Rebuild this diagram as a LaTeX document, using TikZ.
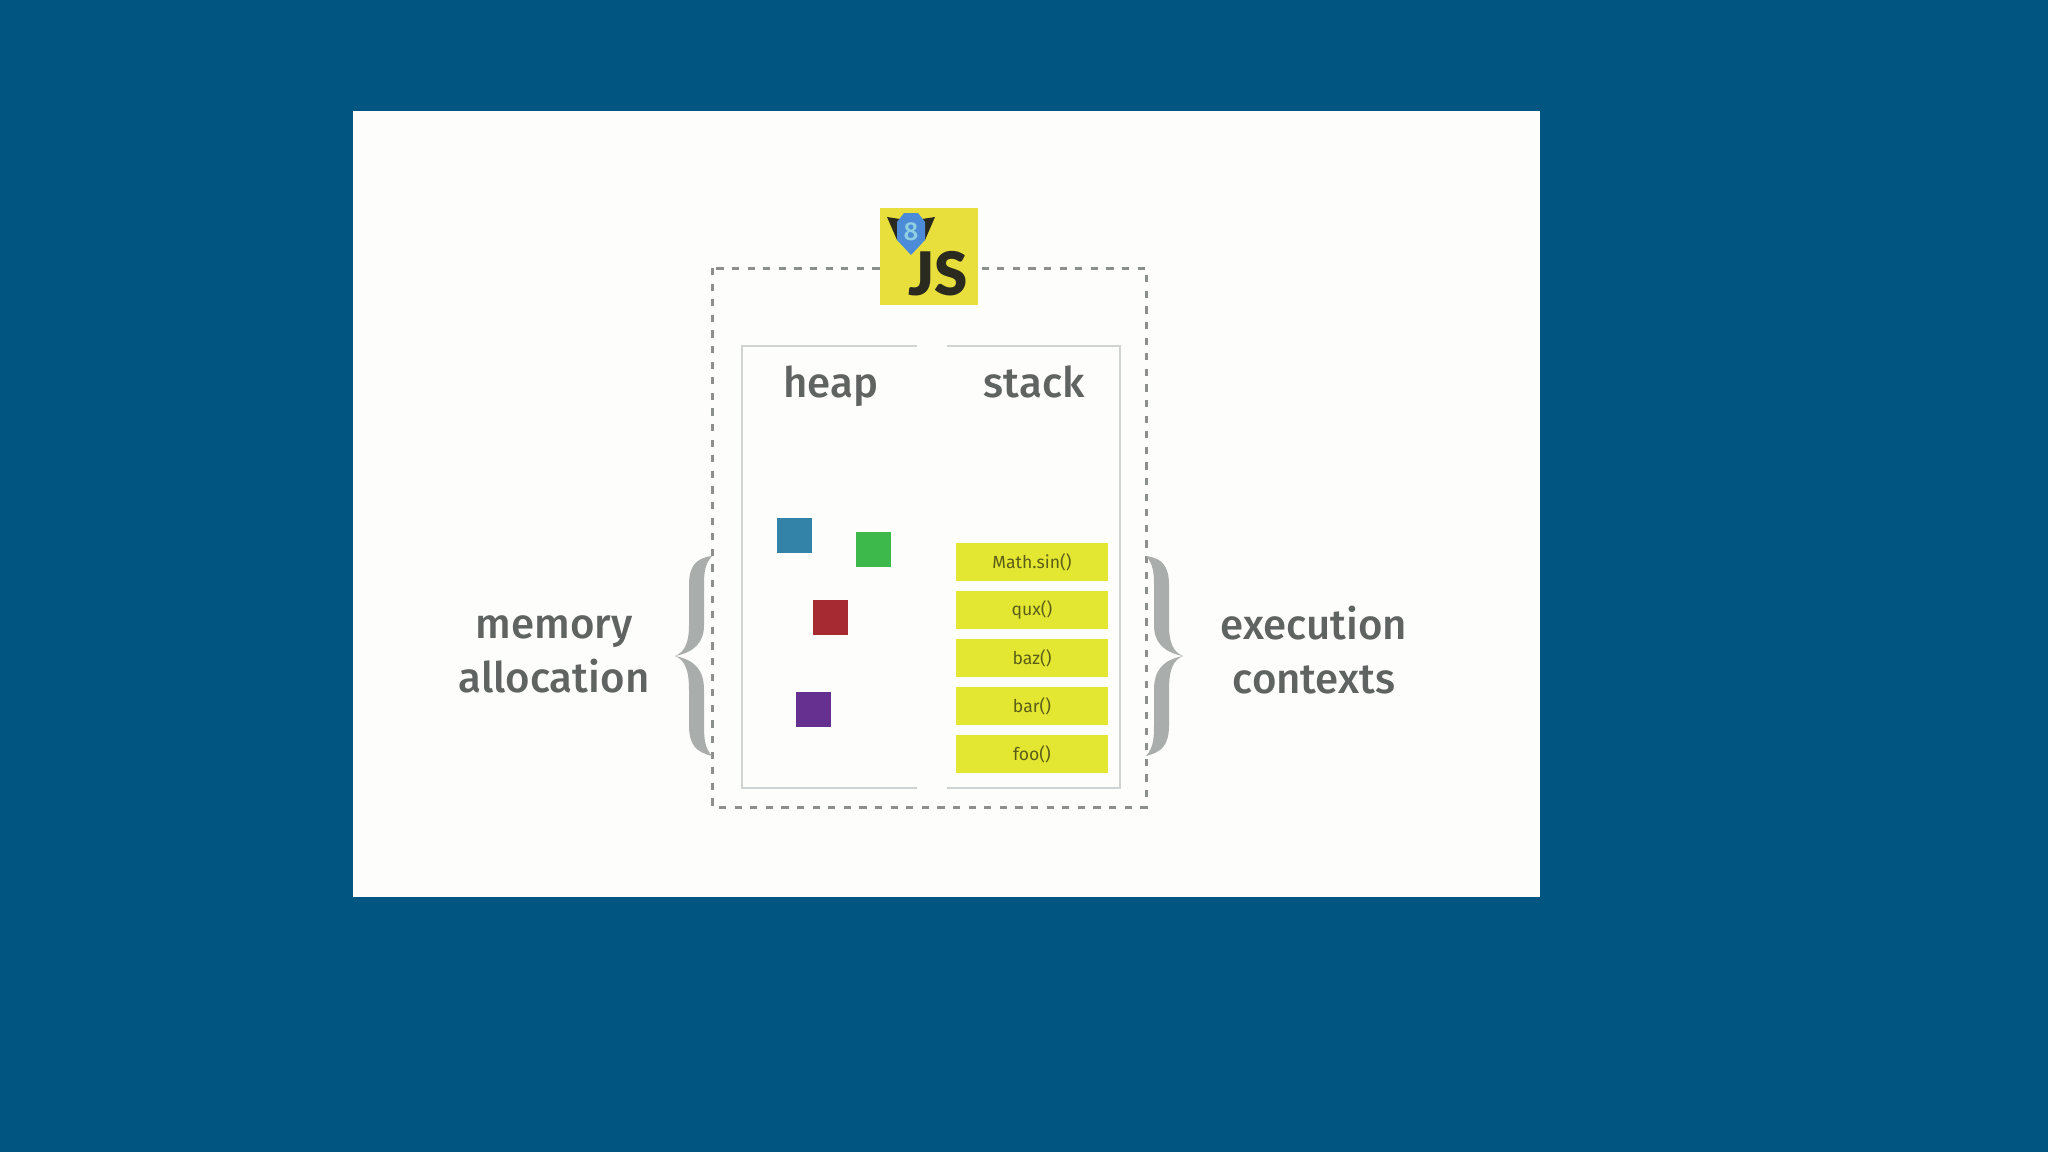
\documentclass[tikz,border=0pt]{standalone}
\usepackage{fontspec}
\setmainfont{Fira Sans}[BoldFont={Fira Sans Medium}]
\newfontfamily\logofont{Lato}[BoldFont={Lato Black}]
\usetikzlibrary{positioning}
\definecolor{slidebg}{HTML}{005581}
\definecolor{panel}{HTML}{FDFEFC}
\definecolor{inktext}{HTML}{5F6362}
\definecolor{dashgray}{HTML}{8B8F8E}
\definecolor{boxgray}{HTML}{CFD3D3}
\definecolor{bracegray}{HTML}{A9ADAC}
\definecolor{jsyellow}{HTML}{E9DF3C}
\definecolor{jsink}{HTML}{2A2A1E}
\definecolor{shieldblue}{HTML}{4C8BD8}
\definecolor{shieldlight}{HTML}{8FD0E0}
\definecolor{frameyellow}{HTML}{E3E732}
\definecolor{frametext}{HTML}{5C5E18}
\definecolor{objblue}{HTML}{3383A8}
\definecolor{objgreen}{HTML}{3DB84A}
\definecolor{objred}{HTML}{A52A32}
\definecolor{objpurple}{HTML}{653090}
\tikzset{
    title/.style={anchor=base, inner sep=0pt, text=inktext, font=\fontsize{21}{25}\bfseries\selectfont},
    side/.style={align=center, inner sep=0pt, text=inktext, font=\fontsize{21}{27}\bfseries\selectfont},
    frame/.style={rectangle, minimum width=76pt, minimum height=19pt, inner sep=0pt, outer sep=0pt, fill=frameyellow, text=frametext, font=\fontsize{8.8}{10}\selectfont},
    object/.style={rectangle, minimum width=17.5pt, minimum height=17.5pt, inner sep=0pt, outer sep=0pt},
}
\begin{document}
\begin{tikzpicture}[x=0.5pt, y=-0.5pt]
    \fill [slidebg] (0,0) rectangle (2048,1152);
    \useasboundingbox (0,0) rectangle (2048,1152);
    \fill [panel] (353,111) rectangle (1540,897);
    % outer dashed box
    \draw [dashgray, line width=1.5pt, dash pattern=on 3.6pt off 4.2pt] (712,268) rectangle (1146,807);
    % inner box, open in the middle
    \draw [boxgray, line width=1pt] (917,346) -- (742,346) -- (742,788) -- (917,788);
    \draw [boxgray, line width=1pt] (947,346) -- (1120,346) -- (1120,788) -- (947,788);
    % js logo
    \node (js) [rectangle, minimum width=49pt, minimum height=48.5pt, inner sep=0pt, outer sep=0pt, fill=jsyellow] at (929,256.5) {};
    \node (jstext) [anchor=base, inner sep=0pt, text=jsink, font=\fontsize{30}{32}\logofont\bfseries\selectfont] at (938.5,295) {JS};
    \fill [jsink] (887,217) -- (900,219) -- (911,226) -- (922,219) -- (935,217) -- (925,240) -- (897,240) -- cycle;
    \fill [shieldblue] (904,213) -- (918,213) -- (925,222) -- (925,240) -- (911,255) -- (897,240) -- (897,222) -- cycle;
    \node (eight) [inner sep=0pt, text=shieldlight, font=\fontsize{13}{14}\bfseries\selectfont] at (911,232) {8};
    % titles
    \node (heap) [title] at (830.5,397) {heap};
    \node (stack) [title, right = 52.5pt of heap.base east, anchor=base west] {stack};
    % heap objects
    \node (blueobj) [object, fill=objblue] at (794,535) {};
    \node (greenobj) [object, fill=objgreen] at (873.5,549) {};
    \node (redobj) [object, fill=objred] at (830.5,617) {};
    \node (purpleobj) [object, fill=objpurple] at (813.5,709) {};
    % stack frames
    \node (mathsin) [frame] at (1032,562) {Math.sin()};
    \node (qux) [frame, below = 5pt of mathsin] {qux()};
    \node (baz) [frame, below = 5pt of qux] {baz()};
    \node (bar) [frame, below = 5pt of baz] {bar()};
    \node (foo) [frame, below = 5pt of bar] {foo()};
    % braces
    \fill [bracegray] (712,556) .. controls (696,558) and (689,566) .. (689,585) -- (689,625)
        .. controls (689,642) and (685,652) .. (675,656) .. controls (685,660) and (689,670) .. (689,690)
        -- (689,725) .. controls (689,745) and (696,752) .. (712,756)
        .. controls (705,748) and (704,740) .. (704,725) -- (704,690)
        .. controls (704,670) and (695,660) .. (675,656) .. controls (695,652) and (704,642) .. (704,625)
        -- (704,585) .. controls (704,572) and (705,564) .. (712,556) -- cycle;
    \fill [bracegray] (1146,556) .. controls (1162,558) and (1169,566) .. (1169,585) -- (1169,625)
        .. controls (1169,642) and (1173,652) .. (1183,656) .. controls (1173,660) and (1169,670) .. (1169,690)
        -- (1169,725) .. controls (1169,745) and (1162,752) .. (1146,756)
        .. controls (1153,748) and (1154,740) .. (1154,725) -- (1154,690)
        .. controls (1154,670) and (1163,660) .. (1183,656) .. controls (1163,652) and (1154,642) .. (1154,625)
        -- (1154,585) .. controls (1154,572) and (1153,564) .. (1146,556) -- cycle;
    % side labels
    \node (memory) [side] at (554,654) {memory\\allocation};
    \node (contexts) [side] at (1314,650) {execution\\contexts};
\end{tikzpicture}
\end{document}
